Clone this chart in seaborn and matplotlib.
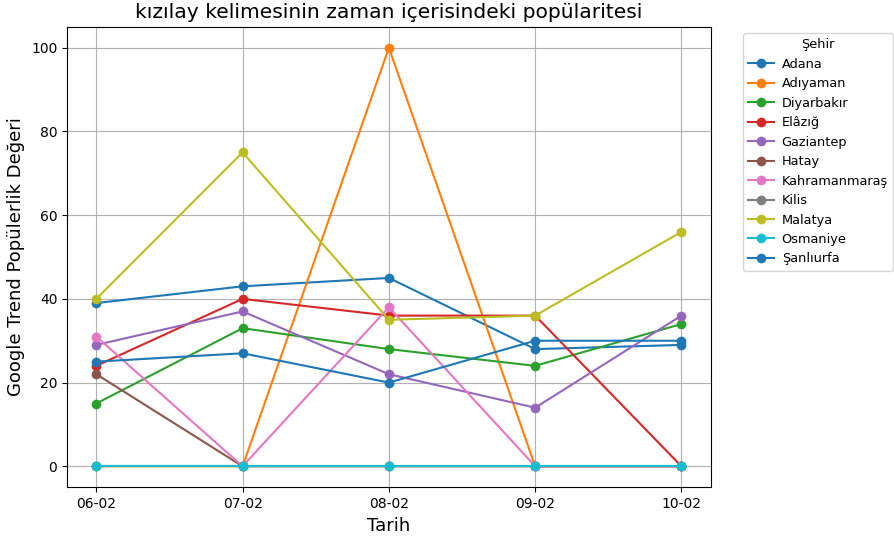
import matplotlib
matplotlib.use("Agg")
import matplotlib.pyplot as plt
import seaborn as sns
import pandas as pd

dates = ["06-02", "07-02", "08-02", "09-02", "10-02"]
cities = ["Adana", "Adıyaman", "Diyarbakır", "Elâzığ", "Gaziantep", "Hatay",
          "Kahramanmaraş", "Kilis", "Malatya", "Osmaniye", "Şanlıurfa"]
adana = [39, 43, 45, 28, 29]
adiyaman = [0, 0, 100, 0, 0]
diyarbakir = [15, 33, 28, 24, 34]
elazig = [24, 40, 36, 36, 0]
gaziantep = [29, 37, 22, 14, 36]
hatay = [22, 0, 0, 0, 0]
kahramanmaras = [31, 0, 38, 0, 0]
kilis = [0, 0, 0, 0, 0]
malatya = [40, 75, 35, 36, 56]
osmaniye = [0, 0, 0, 0, 0]
sanliurfa = [25, 27, 20, 30, 30]

series = [adana, adiyaman, diyarbakir, elazig, gaziantep, hatay,
          kahramanmaras, kilis, malatya, osmaniye, sanliurfa]

rows = []
for c, vals in zip(cities, series):
    for d, v in zip(dates, vals):
        rows.append({"Tarih": d, "Şehir": c, "Değer": v})
df = pd.DataFrame(rows)

tab10 = plt.get_cmap("tab10").colors
palette = [tab10[i % 10] for i in range(len(cities))]

fig, ax = plt.subplots(figsize=(8.94, 5.36), dpi=100)
sns.lineplot(data=df, x="Tarih", y="Değer", hue="Şehir", hue_order=cities,
             palette=palette, marker="o", markersize=7, markeredgewidth=0,
             linewidth=1.5, ax=ax, sort=False)
ax.grid(True, color="#b0b0b0", linewidth=0.8)
ax.set_title("kızılay kelimesinin zaman içerisindeki popülaritesi", fontsize=14.6)
ax.set_xlabel("Tarih", fontsize=13)
ax.set_ylabel("Google Trend Popülerlik Değeri", fontsize=13)
ax.set_ylim(-5, 105)
ax.legend(title="Şehir", bbox_to_anchor=(1.04, 1), loc="upper left",
          fontsize=9.3, title_fontsize=9.3, handletextpad=0.6)
fig.subplots_adjust(left=0.075, right=0.795, top=0.95, bottom=0.091)
fig.savefig("out.png", dpi=100)
